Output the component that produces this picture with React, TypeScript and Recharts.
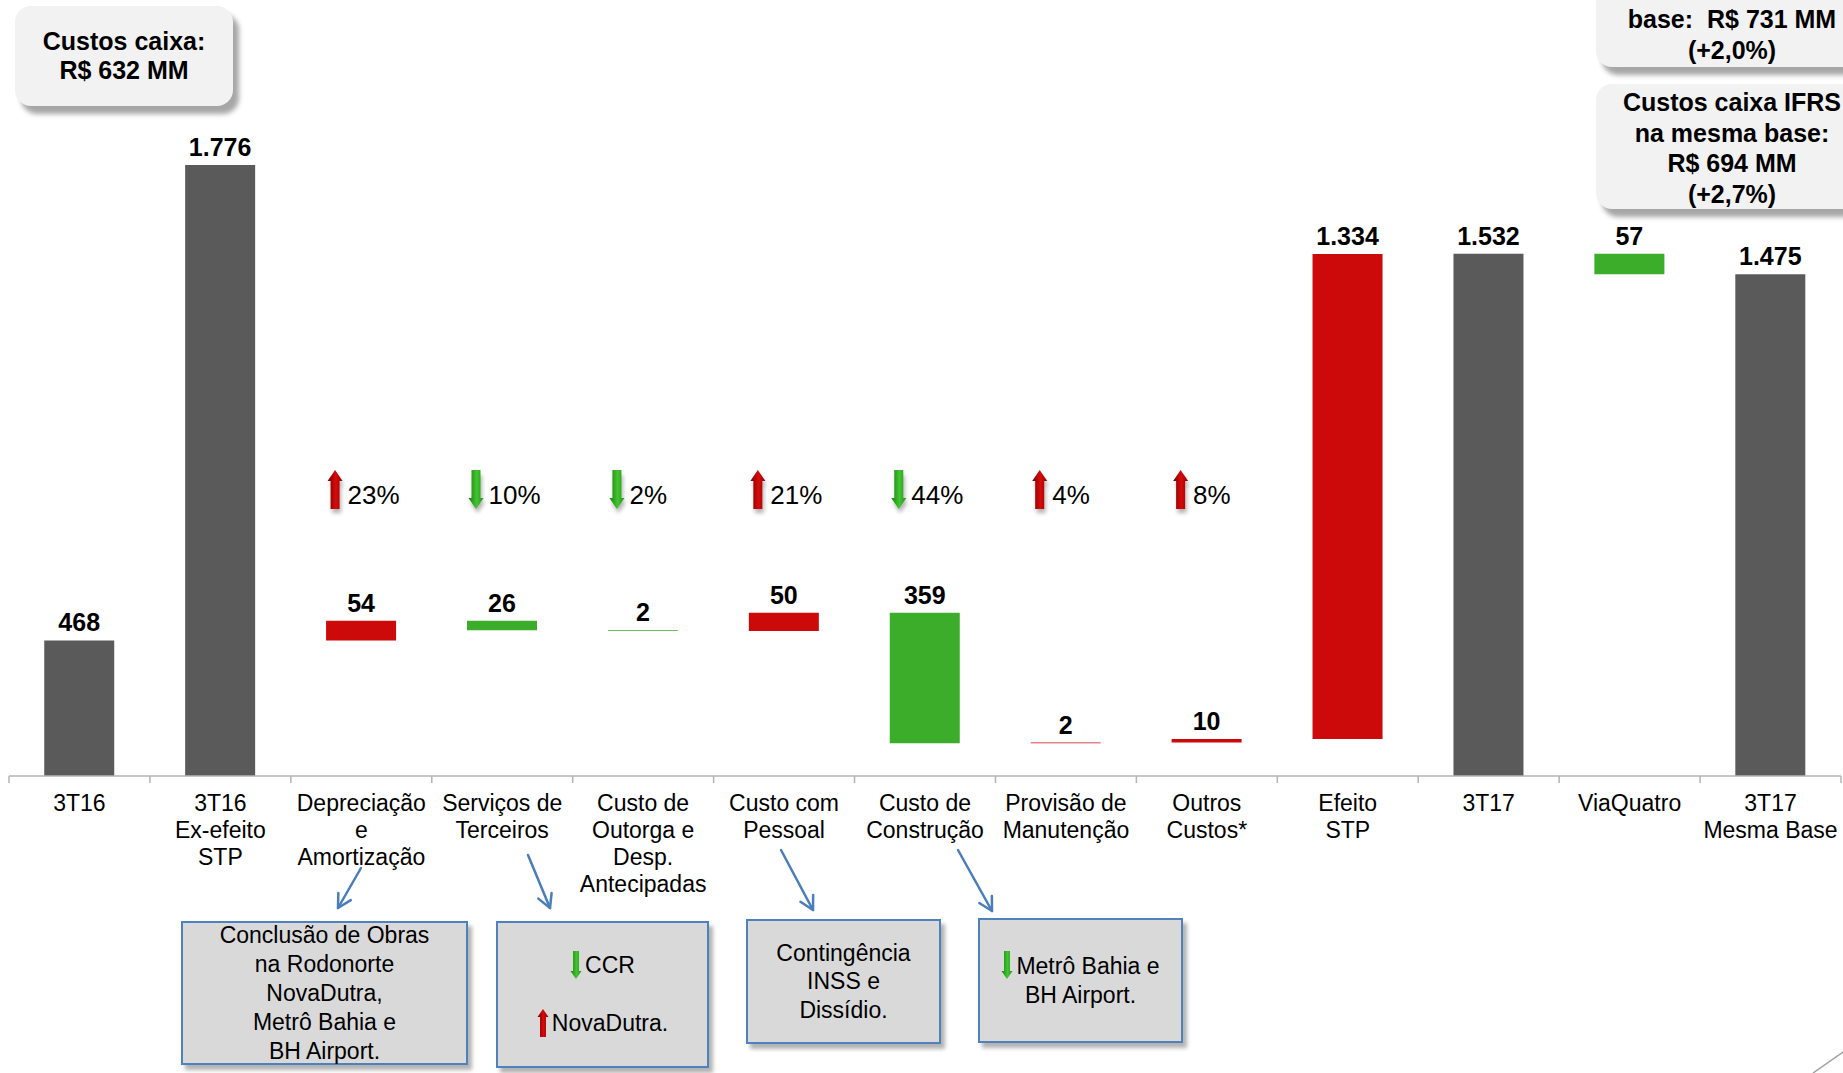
import React from "react";
import { BarChart, Bar, XAxis, YAxis, Cell, LabelList } from "recharts";

const categories = [
  "3T16",
  "3T16\nEx-efeito\nSTP",
  "Depreciação\ne\nAmortização",
  "Serviços de\nTerceiros",
  "Custo de\nOutorga e\nDesp.\nAntecipadas",
  "Custo com\nPessoal",
  "Custo de\nConstrução",
  "Provisão de\nManutenção",
  "Outros\nCustos*",
  "Efeito\nSTP",
  "3T17",
  "ViaQuatro",
  "3T17\nMesma Base",
];

// "total" restarts the running level, "side" is a stand-alone total, "delta" moves the level
const stepKinds = [
  "total", "side", "delta", "delta", "delta", "delta", "delta",
  "delta", "delta", "delta", "total", "delta", "total",
];

// R$ MM: totals as levels, deltas signed
const amounts = [468, 1776, 54, -26, -2, 50, -359, 2, 10, 1334, 1532, -57, 1475];

// variação % por linha de custo
const pctChange = [null, null, 23, -10, -2, 21, -44, 4, 8, null, null, null, null];

const cashCostNote = ["Custos caixa:", "R$ 632 MM"];
const sameBaseNote = ["base:  R$ 731 MM", "(+2,0%)"];
const ifrsNote = ["Custos caixa IFRS", "na mesma base:", "R$ 694 MM", "(+2,7%)"];

const W = 1843;
const H = 1073;
const FONT = '"Liberation Sans", Arial, Helvetica, sans-serif';
const PLOT_TOP = 83.5;
const AXIS_Y = 776;
const LEFT = 9;
const RIGHT = 2;
const BAND = (W - LEFT - RIGHT) / categories.length;
const Y_MIN = 95;
const Y_MAX = 2000;

const GREY = "#5A5A5A";
const RED = "#CC0A0A";
const GREEN = "#3CAD2A";

function fmt(n: number): string {
  if (n < 1000) return String(n);
  return `${Math.floor(n / 1000)}.${String(n % 1000).padStart(3, "0")}`;
}

type Row = { name: string; range: number | [number, number]; label: string; fill: string; pct: number | null };

let level = 0;
const rows: Row[] = categories.map((name, i) => {
  const a = amounts[i];
  const kind = stepKinds[i];
  if (kind === "delta") {
    const from = level;
    level = from + a;
    return {
      name,
      range: [Math.min(from, level), Math.max(from, level)],
      label: fmt(Math.abs(a)),
      fill: a >= 0 ? RED : GREEN,
      pct: pctChange[i],
    };
  }
  if (kind === "total") level = a;
  return { name, range: a, label: fmt(a), fill: GREY, pct: pctChange[i] };
});

function CategoryTick(props: any) {
  const { x, payload } = props;
  const idx = payload?.index ?? props.index;
  const cx = Number(x);
  const lines = String(payload.value).split("\n");
  return (
    <g>
      <line x1={cx - BAND / 2} x2={cx - BAND / 2} y1={AXIS_Y} y2={AXIS_Y + 7} stroke="#B4B4B4" strokeWidth={1.5} />
      {idx === categories.length - 1 && (
        <line x1={cx + BAND / 2} x2={cx + BAND / 2} y1={AXIS_Y} y2={AXIS_Y + 7} stroke="#B4B4B4" strokeWidth={1.5} />
      )}
      <text x={cx} y={AXIS_Y + 35} textAnchor="middle" fill="#000" style={{ fontFamily: FONT, fontSize: 23 }}>
        {lines.map((l, i) => (
          <tspan key={i} x={cx} dy={i === 0 ? 0 : 27}>
            {l}
          </tspan>
        ))}
      </text>
    </g>
  );
}

const renderValue = (props: any) => {
  const { x, y, width, value } = props;
  if (value == null) return null;
  return (
    <text
      x={Number(x) + Number(width) / 2}
      y={Number(y) - 9}
      textAnchor="middle"
      fill="#000"
      style={{ fontFamily: FONT, fontSize: 25, fontWeight: 700 }}
    >
      {value}
    </text>
  );
};

function arrowPath(cx: number, t: number, b: number, up: boolean, hw = 4.5, hh = 7.5, hl = 11) {
  if (up)
    return `M${cx},${t} L${cx + hh},${t + hl} L${cx + hw},${t + hl} L${cx + hw},${b} L${cx - hw},${b} L${cx - hw},${t + hl} L${cx - hh},${t + hl} Z`;
  return `M${cx},${b} L${cx + hh},${b - hl} L${cx + hw},${b - hl} L${cx + hw},${t} L${cx - hw},${t} L${cx - hw},${b - hl} L${cx - hh},${b - hl} Z`;
}

// arrow + percentage sit on a fixed row above the floating bars
const renderPct = (props: any) => {
  const { x, width, value, index } = props;
  if (value == null || value === "") return null;
  const v = Number(value);
  const up = v > 0;
  const txt = `${Math.abs(v)}%`;
  const ax = Number(x) + Number(width) / 2 - 26;
  const top = 470;
  const bot = 509;
  const gid = `pctg-${index}`;
  const fid = `pcts-${index}`;
  return (
    <g>
      <defs>
        <linearGradient id={gid} x1="0" y1="0" x2="1" y2="0">
          <stop offset="0%" stopColor={up ? "#7A0000" : "#1A7F10"} />
          <stop offset="55%" stopColor={up ? "#D80A0A" : "#41C52F"} />
          <stop offset="100%" stopColor={up ? "#950000" : "#23931A"} />
        </linearGradient>
        <filter id={fid} x="-1" y="-1" width="3" height="3">
          <feGaussianBlur stdDeviation="2" />
        </filter>
      </defs>
      <path d={arrowPath(ax + 1.5, top + 5, bot + 4, up)} fill="#000" opacity={0.3} filter={`url(#${fid})`} />
      <path d={arrowPath(ax, top, bot, up)} fill={`url(#${gid})`} />
      <text x={ax + 12.5} y={504} fill="#000" style={{ fontFamily: FONT, fontSize: 26 }}>
        {txt}
      </text>
    </g>
  );
};

function MiniArrow({ up }: { up: boolean }) {
  return (
    <svg width={12} height={30} style={{ verticalAlign: "middle", marginRight: 3, marginTop: -4 }}>
      <defs>
        <linearGradient id={up ? "mini-up" : "mini-down"} x1="0" y1="0" x2="1" y2="0">
          <stop offset="0%" stopColor={up ? "#7A0000" : "#1A7F10"} />
          <stop offset="55%" stopColor={up ? "#D80A0A" : "#41C52F"} />
          <stop offset="100%" stopColor={up ? "#950000" : "#23931A"} />
        </linearGradient>
      </defs>
      <path d={arrowPath(6, 1, 29, up, 3, 5.5, 8)} fill={`url(#${up ? "mini-up" : "mini-down"})`} />
    </svg>
  );
}

function Connector({ x1, y1, x2, y2 }: { x1: number; y1: number; x2: number; y2: number }) {
  const ang = Math.atan2(y2 - y1, x2 - x1);
  const L = 15;
  const s = 0.5;
  const p1 = `${x2 - L * Math.cos(ang - s)},${y2 - L * Math.sin(ang - s)}`;
  const p2 = `${x2 - L * Math.cos(ang + s)},${y2 - L * Math.sin(ang + s)}`;
  return (
    <g stroke="#4A7EBB" strokeWidth={2.5} fill="none" strokeLinecap="round" strokeLinejoin="round">
      <line x1={x1} y1={y1} x2={x2} y2={y2} />
      <polyline points={`${p1} ${x2},${y2} ${p2}`} />
    </g>
  );
}

const noteStyle: React.CSSProperties = {
  position: "absolute",
  background: "#F2F2F2",
  borderRadius: 16,
  boxShadow: "6px 8px 5px rgba(0,0,0,0.35)",
  fontWeight: 700,
  fontSize: 25,
  color: "#000",
  textAlign: "center",
  whiteSpace: "pre",
  display: "flex",
  flexDirection: "column",
  boxSizing: "border-box",
};

const boxStyle: React.CSSProperties = {
  position: "absolute",
  background: "#D9D9D9",
  border: "2px solid #4F81BD",
  boxShadow: "4px 5px 4px rgba(0,0,0,0.3)",
  fontSize: 23,
  color: "#000",
  textAlign: "center",
  display: "flex",
  flexDirection: "column",
  justifyContent: "center",
  boxSizing: "border-box",
  whiteSpace: "nowrap",
};

export default function App() {
  return (
    <div
      style={{
        position: "absolute",
        left: 0,
        top: 0,
        width: W,
        height: H,
        overflow: "hidden",
        background: "#fff",
        fontFamily: FONT,
      }}
    >
      <BarChart
        width={W}
        height={H}
        data={rows}
        margin={{ top: PLOT_TOP, right: RIGHT, bottom: 0, left: LEFT }}
        barCategoryGap="25%"
      >
        <XAxis
          dataKey="name"
          interval={0}
          height={H - AXIS_Y}
          tickLine={false}
          axisLine={{ stroke: "#B4B4B4", strokeWidth: 1.5 }}
          tick={(p: any) => <CategoryTick {...p} />}
        />
        <YAxis hide domain={[Y_MIN, Y_MAX]} allowDataOverflow />
        <Bar dataKey="range" isAnimationActive={false}>
          {rows.map((r, i) => (
            <Cell key={i} fill={r.fill} />
          ))}
          <LabelList dataKey="label" content={renderValue} />
          <LabelList dataKey="pct" content={renderPct} />
        </Bar>
      </BarChart>

      <svg width={W} height={H} style={{ position: "absolute", left: 0, top: 0, pointerEvents: "none" }}>
        <Connector x1={361} y1={868} x2={338} y2={908} />
        <Connector x1={528} y1={855} x2={550} y2={908} />
        <Connector x1={781} y1={850} x2={813} y2={910} />
        <Connector x1={958} y1={850} x2={992} y2={911} />
        <line x1={1813} y1={1073} x2={1843} y2={1052} stroke="#A0A0A0" strokeWidth={1.5} />
      </svg>

      <div style={{ ...noteStyle, left: 15, top: 6, width: 218, height: 100, justifyContent: "center", lineHeight: "29px" }}>
        {cashCostNote.map((l) => (
          <div key={l}>{l}</div>
        ))}
      </div>

      <div
        style={{
          ...noteStyle,
          left: 1596,
          top: -60,
          width: 272,
          height: 127,
          justifyContent: "flex-end",
          lineHeight: "31px",
          paddingBottom: 1,
        }}
      >
        {sameBaseNote.map((l) => (
          <div key={l}>{l}</div>
        ))}
      </div>

      <div
        style={{
          ...noteStyle,
          left: 1596,
          top: 84,
          width: 272,
          height: 125,
          justifyContent: "flex-start",
          lineHeight: "30.5px",
          paddingTop: 3,
        }}
      >
        {ifrsNote.map((l) => (
          <div key={l}>{l}</div>
        ))}
      </div>

      <div style={{ ...boxStyle, left: 181, top: 921, width: 287, height: 144, lineHeight: "29px" }}>
        <div>Conclusão de Obras</div>
        <div>na Rodonorte</div>
        <div>NovaDutra,</div>
        <div>Metrô Bahia e</div>
        <div>BH Airport.</div>
      </div>

      <div style={{ ...boxStyle, left: 496, top: 921, width: 213, height: 147, lineHeight: "28.5px" }}>
        <div>
          <MiniArrow up={false} />
          CCR
        </div>
        <div>&nbsp;</div>
        <div>
          <MiniArrow up={true} />
          NovaDutra.
        </div>
      </div>

      <div style={{ ...boxStyle, left: 746, top: 919, width: 195, height: 125, lineHeight: "28.5px" }}>
        <div>Contingência</div>
        <div>INSS e</div>
        <div>Dissídio.</div>
      </div>

      <div style={{ ...boxStyle, left: 978, top: 918, width: 205, height: 125, lineHeight: "29px" }}>
        <div>
          <MiniArrow up={false} />
          Metrô Bahia e
        </div>
        <div>BH Airport.</div>
      </div>
    </div>
  );
}
